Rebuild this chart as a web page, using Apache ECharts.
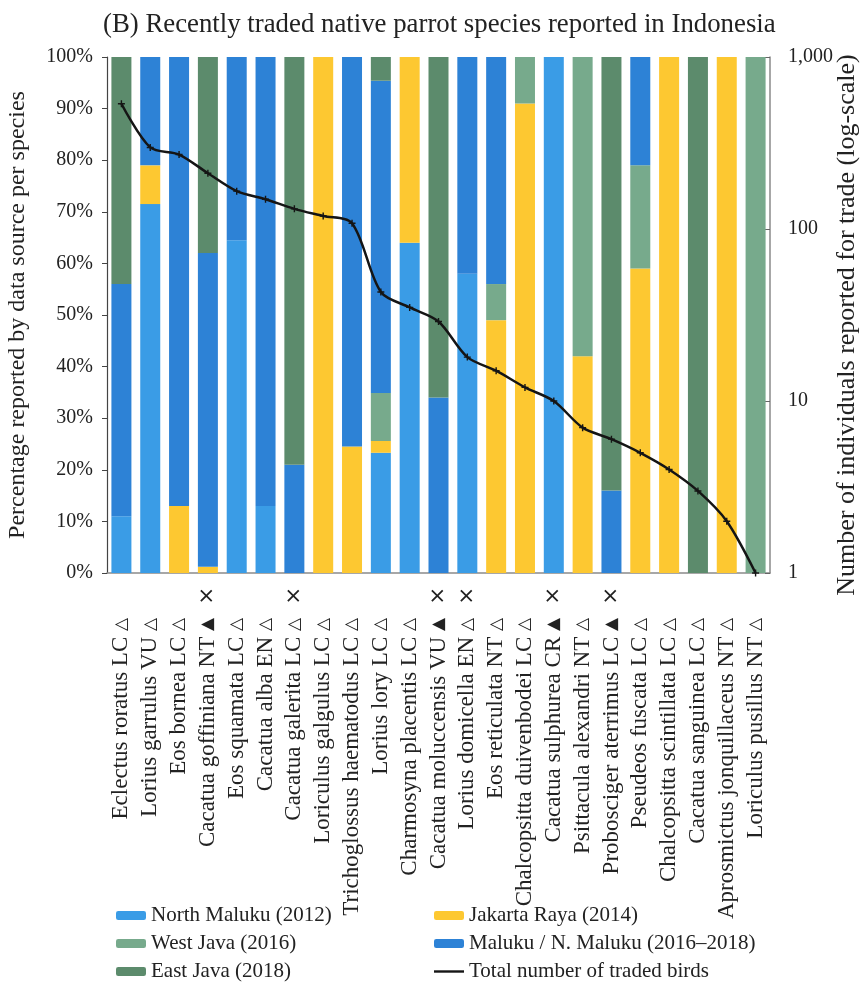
<!DOCTYPE html>
<html>
<head>
<meta charset="utf-8">
<title>Recently traded native parrot species reported in Indonesia</title>
<script src="https://cdn.jsdelivr.net/npm/echarts@6/dist/echarts.min.js"></script>
<style>
  html, body { margin: 0; padding: 0; background: #ffffff; overflow: hidden; }
  #chart { position: absolute; left: 0; top: 0; width: 863px; height: 994px; }
</style>
</head>
<body>
<div id="chart"></div>
<script>
// Species, ordered by total number of traded birds
const species = [
  'Eclectus roratus', 'Lorius garrulus', 'Eos bornea', 'Cacatua goffiniana',
  'Eos squamata', 'Cacatua alba', 'Cacatua galerita', 'Loriculus galgulus',
  'Trichoglossus haematodus', 'Lorius lory', 'Charmosyna placentis',
  'Cacatua moluccensis', 'Lorius domicella', 'Eos reticulata',
  'Chalcopsitta duivenbodei', 'Cacatua sulphurea', 'Psittacula alexandri',
  'Probosciger aterrimus', 'Pseudeos fuscata', 'Chalcopsitta scintillata',
  'Cacatua sanguinea', 'Aprosmictus jonquillaceus', 'Loriculus pusillus'
];
const iucnStatus = ['LC', 'VU', 'LC', 'NT', 'LC', 'EN', 'LC', 'LC', 'LC', 'LC', 'LC',
  'VU', 'EN', 'NT', 'LC', 'CR', 'NT', 'LC', 'LC', 'LC', 'LC', 'NT', 'NT'];
const tradeSymbol = ['△', '△', '△', '▲', '△', '△', '△', '△', '△', '△', '△',
  '▲', '△', '△', '△', '▲', '△', '▲', '△', '△', '△', '△', '△'];
const crossMarked = [false, false, false, true, false, false, true, false, false, false, false,
  true, true, false, false, true, false, true, false, false, false, false, false];

// Percentage of records per data source (stacked bottom to top)
const northMaluku2012 = [11, 71.5, 0, 0, 64.5, 13, 0, 0, 0, 23.3, 64, 0, 58, 0, 0, 100, 0, 0, 0, 0, 0, 0, 0];
const jakartaRaya2014 = [0, 7.5, 13, 1.2, 0, 0, 0, 100, 24.5, 2.3, 36, 0, 0, 49, 91, 0, 42, 0, 59, 100, 0, 100, 0];
const westJava2016 = [0, 0, 0, 0, 0, 0, 0, 0, 0, 9.3, 0, 0, 0, 7, 9, 0, 58, 0, 20, 0, 0, 0, 100];
const maluku2016to2018 = [45, 21, 87, 60.8, 35.5, 87, 21, 0, 75.5, 60.5, 0, 34, 42, 44, 0, 0, 0, 16, 21, 0, 0, 0, 0];
const eastJava2018 = [44, 0, 0, 38, 0, 0, 79, 0, 0, 4.6, 0, 66, 0, 0, 0, 0, 0, 84, 0, 0, 100, 0, 0];

// Total number of traded birds per species (right, log-scale axis)
const totalBirds = [535, 298, 271, 211, 166, 149, 131, 119, 108, 43, 35, 29, 18, 15, 12, 10, 7, 6, 5, 4, 3, 2, 1];

const serif = "'Liberation Serif', 'Times New Roman', 'DejaVu Serif', serif";
const ink = '#222222';

const colors = {
  northMaluku: '#3a9ce6',
  jakarta: '#fdc831',
  westJava: '#77aa8c',
  maluku: '#2d82d6',
  eastJava: '#5c8b6c',
  total: '#151515'
};

function barSeries(name, data, color) {
  return {
    name: name,
    type: 'bar',
    stack: 'share',
    barWidth: 20,
    data: data,
    itemStyle: { color: color },
    emphasis: { disabled: true }
  };
}

const chart = echarts.init(document.getElementById('chart'), null, {
  renderer: 'canvas', width: 863, height: 994
});

chart.setOption({
  animation: false,
  backgroundColor: '#ffffff',
  title: {
    text: '(B) Recently traded native parrot species reported in Indonesia',
    left: 98,
    top: 6,
    textStyle: { fontFamily: serif, fontSize: 26.8, fontWeight: 'normal', color: ink }
  },
  legend: [
    {
      data: ['North Maluku (2012)', 'West Java (2016)', 'East Java (2018)'],
      orient: 'vertical',
      left: 111,
      top: 900,
      itemWidth: 30,
      itemHeight: 9,
      itemGap: 7,
      selectedMode: false,
      textStyle: { fontFamily: serif, fontSize: 21, color: ink }
    },
    {
      data: [
        'Jakarta Raya (2014)',
        'Maluku / N. Maluku (2016–2018)',
        { name: 'Total number of traded birds', icon: 'path://M0,0H30V2.4H0Z' }
      ],
      orient: 'vertical',
      left: 429,
      top: 900,
      itemWidth: 30,
      itemHeight: 9,
      itemGap: 7,
      selectedMode: false,
      textStyle: { fontFamily: serif, fontSize: 21, color: ink }
    }
  ],
  grid: { left: 107, right: 93, top: 57, bottom: 421, containLabel: false, outerBoundsMode: 'none' },
  xAxis: {
    type: 'category',
    data: species,
    axisLine: { lineStyle: { color: '#8a8a8a', width: 1.5 } },
    axisTick: { show: false },
    axisLabel: {
      interval: 0,
      rotate: 90,
      margin: 14,
      fontFamily: serif,
      fontSize: 23,
      color: ink,
      formatter: function (value, index) {
        const mark = crossMarked[index] ? 'x' : 'h';
        return value + ' ' + iucnStatus[index] + ' {t|' + tradeSymbol[index] + '}{' + mark + '|  ×}';
      },
      rich: {
        t: { fontFamily: "'DejaVu Sans', sans-serif", fontSize: 17, color: ink },
        x: { fontFamily: "'DejaVu Sans', sans-serif", fontSize: 21, color: ink },
        h: { fontFamily: "'DejaVu Sans', sans-serif", fontSize: 21, color: 'rgba(0,0,0,0)' }
      }
    }
  },
  yAxis: [
    {
      type: 'value',
      min: 0,
      max: 100,
      interval: 10,
      name: 'Percentage reported by data source per species',
      nameLocation: 'middle',
      nameRotate: 90,
      nameGap: 77,
      nameTextStyle: { fontFamily: serif, fontSize: 24, color: ink },
      axisLine: { show: true, lineStyle: { color: '#444444', width: 1.2 } },
      axisTick: { show: true, length: 5, lineStyle: { color: '#444444' } },
      axisLabel: { formatter: '{value}%', margin: 14, fontFamily: serif, fontSize: 20, color: ink },
      splitLine: { show: false }
    },
    {
      type: 'log',
      logBase: 10,
      min: 1,
      max: 1000,
      position: 'right',
      name: 'Number of individuals reported for trade (log-scale)',
      nameLocation: 'middle',
      nameRotate: 90,
      nameGap: 64,
      nameMoveOverlap: false,
      nameTextStyle: { fontFamily: serif, fontSize: 26, color: ink, padding: [0, 20, 0, 0] },
      axisLine: { show: true, lineStyle: { color: '#8a8a8a', width: 1.5 } },
      axisTick: { show: true, inside: true, length: 5, lineStyle: { color: '#666666' } },
      axisLabel: {
        margin: 18,
        fontFamily: serif,
        fontSize: 20,
        color: ink,
        formatter: function (v) { return Number(v).toLocaleString('en-US'); }
      },
      splitLine: { show: false }
    }
  ],
  series: [
    barSeries('North Maluku (2012)', northMaluku2012, colors.northMaluku),
    barSeries('Jakarta Raya (2014)', jakartaRaya2014, colors.jakarta),
    barSeries('West Java (2016)', westJava2016, colors.westJava),
    barSeries('Maluku / N. Maluku (2016–2018)', maluku2016to2018, colors.maluku),
    barSeries('East Java (2018)', eastJava2018, colors.eastJava),
    {
      name: 'Total number of traded birds',
      type: 'line',
      yAxisIndex: 1,
      data: totalBirds,
      smooth: 0.3,
      symbol: 'path://M4,0H6V4H10V6H6V10H4V6H0V4H4Z',
      symbolSize: 7,
      lineStyle: { color: colors.total, width: 2.5 },
      itemStyle: { color: colors.total },
      z: 10,
      emphasis: { disabled: true }
    }
  ]
});
</script>
</body>
</html>
